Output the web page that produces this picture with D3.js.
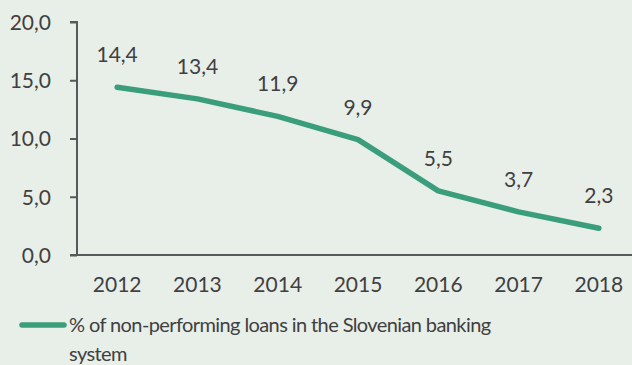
<!DOCTYPE html>
<html>
<head>
<meta charset="utf-8">
<script src="https://cdn.jsdelivr.net/npm/d3@7"></script>
<style>
  html, body { margin: 0; padding: 0; background: #e8eee8; }
  svg { display: block; }
  text { font-family: Lato, "Open Sans", sans-serif; fill: #404040; }
</style>
</head>
<body>
<svg id="chart" width="632" height="365"></svg>
<script>
// Non-performing loans, % of total, Slovenian banking system
const years = ["2012", "2013", "2014", "2015", "2016", "2017", "2018"];
const npl = [14.4, 13.4, 11.9, 9.9, 5.5, 3.7, 2.3];
const yTicks = [0, 5, 10, 15, 20];
const seriesName = ["% of non-performing loans in the Slovenian banking", "system"];

const W = 632, H = 365;
const plotLeft = 77, plotTop = 22, plotBottom = 255, plotRight = 639;
const lineColor = "#3a9e7c";
const axisColor = "#555a58";
const fontSize = 21;
const fmt = v => v.toFixed(1).replace(".", ",");

const svg = d3.select("#chart");
svg.append("rect").attr("width", W).attr("height", H).attr("fill", "#e8eee8");

const x = d3.scaleBand().domain(years).range([plotLeft, plotRight]).padding(0);
const y = d3.scaleLinear().domain([0, 20]).range([plotBottom, plotTop]);

// Y axis
const yAxis = svg.append("g").attr("transform", `translate(${plotLeft},0)`)
  .call(d3.axisLeft(y).tickValues(yTicks).tickSize(7).tickPadding(19).tickFormat(fmt));
yAxis.select(".domain").attr("stroke", axisColor).attr("stroke-width", 2)
  .attr("d", `M-7,${y(20)}H0V${y(0)}`);
yAxis.selectAll(".tick line").attr("stroke", axisColor).attr("stroke-width", 2);
yAxis.selectAll(".tick text").attr("font-size", fontSize).attr("fill", "#404040")
  .attr("font-family", null).attr("dy", "0.35em");

// X axis
const xAxis = svg.append("g").attr("transform", `translate(0,${plotBottom})`)
  .call(d3.axisBottom(x).tickSize(0).tickPadding(22));
xAxis.select(".domain").attr("stroke", axisColor).attr("stroke-width", 2)
  .attr("d", `M${plotLeft - 7},0H${W}`);
xAxis.selectAll(".tick text").attr("font-size", fontSize).attr("fill", "#404040")
  .attr("font-family", null);

// Series line
const cx = d => x(d) + x.bandwidth() / 2;
const pts = years.map((yr, i) => [cx(yr), y(npl[i])]);
svg.append("path")
  .attr("d", d3.line()(pts))
  .attr("fill", "none")
  .attr("stroke", lineColor)
  .attr("stroke-width", 5.5)
  .attr("stroke-linecap", "round")
  .attr("stroke-linejoin", "round");

// Value labels
svg.append("g").selectAll("text").data(years).join("text")
  .attr("x", d => cx(d))
  .attr("y", (d, i) => y(npl[i]) - 25)
  .attr("text-anchor", "middle")
  .attr("font-size", fontSize)
  .text((d, i) => fmt(npl[i]));

// Legend
const lg = svg.append("g");
lg.append("line")
  .attr("x1", 22).attr("x2", 64).attr("y1", 325).attr("y2", 325)
  .attr("stroke", lineColor).attr("stroke-width", 5.5).attr("stroke-linecap", "round");
lg.selectAll("text").data(seriesName).join("text")
  .attr("x", 69)
  .attr("y", (d, i) => 332 + i * 29)
  .attr("font-size", 20)
  .attr("letter-spacing", -0.6)
  .text(d => d);
</script>
</body>
</html>
